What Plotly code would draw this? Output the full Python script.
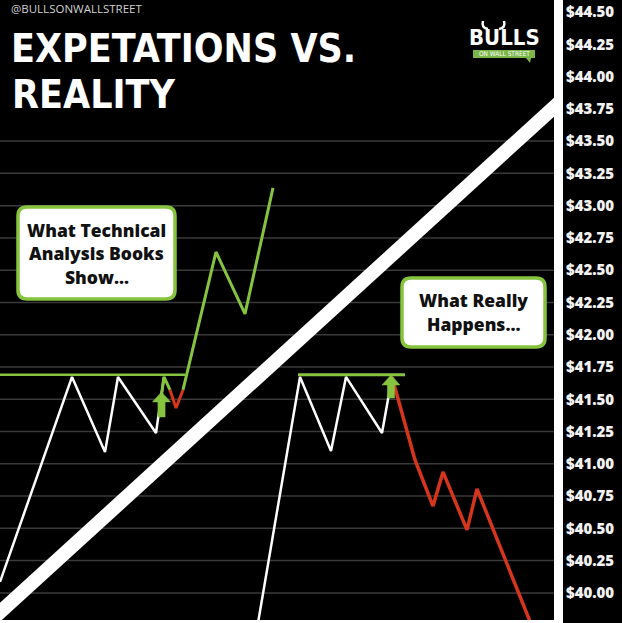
import plotly.graph_objects as go

# ---------------- data ----------------
tick_values = [40.00, 40.25, 40.50, 40.75, 41.00, 41.25, 41.50, 41.75, 42.00,
               42.25, 42.50, 42.75, 43.00, 43.25, 43.50, 43.75, 44.00, 44.25, 44.50]
tick_labels = ["$40.00", "$40.25", "$40.50", "$40.75", "$41.00", "$41.25", "$41.50",
               "$41.75", "$42.00", "$42.25", "$42.50", "$42.75", "$43.00", "$43.25",
               "$43.50", "$43.75", "$44.00", "$44.25", "$44.50"]
grid_values = [40.00, 40.25, 40.50, 40.75, 41.00, 41.25, 41.50, 41.75, 42.00,
               42.25, 42.50, 42.75, 43.00, 43.25, 43.50]

# left ("expectation") pattern
left_white_t = [0, 72, 105, 118, 156, 164]
left_white_p = [40.085, 41.673, 41.092, 41.673, 41.239, 41.673]
left_green1_t = [161, 164, 170]
left_green1_p = [41.51, 41.673, 41.572]
left_red_t = [170, 176, 183]
left_red_p = [41.572, 41.433, 41.572]
left_green2_t = [183, 216, 245, 273]
left_green2_p = [41.572, 42.641, 42.161, 43.137]
left_resist_t = [0, 185]
left_resist_p = [41.69, 41.69]

# right ("reality") pattern
right_white_t = [258, 300, 331, 346, 382, 392]
right_white_p = [39.767, 41.673, 41.100, 41.673, 41.239, 41.673]
right_red_t = [392, 415, 433, 443, 467, 477, 531]
right_red_p = [41.673, 41.030, 40.673, 40.937, 40.488, 40.805, 39.76]
right_resist_t = [298, 405]
right_resist_p = [41.69, 41.69]

# divider
diag_t = [-10, 565]
diag_p = [39.78, 43.84]

# breakout arrows
arrow_t = [161.5, 391]
arrow_tip = [41.557, 41.688]
arrow_bottom = [41.363, 41.510]

# ---------------- layout constants ----------------
W, H = 622, 623
ML, MR, MT, MB = 0, 68, 0, 3
PW, PH = W - ML - MR, H - MT - MB
X_RANGE = [0, PW]
Y_RANGE = [39.790, 44.593]
PX_Y = (Y_RANGE[1] - Y_RANGE[0]) / PH   # price units per pixel

GREEN = "#86c440"
RED = "#d5351d"
WHITE = "#ffffff"
GRID = "#3a3a3a"
CONDENSED = "DejaVu Sans Condensed, DejaVu Sans, sans-serif"


def px(x, y):
    """figure pixel -> paper coords"""
    return (x - ML) / PW, 1 - (y - MT) / PH


def P(x, y):
    a, b = px(x, y)
    return f"{a:.5f},{b:.5f}"


def rrect(x0, y0, x1, y1, r):
    return (f"M {P(x0 + r, y0)} L {P(x1 - r, y0)} Q {P(x1, y0)} {P(x1, y0 + r)} "
            f"L {P(x1, y1 - r)} Q {P(x1, y1)} {P(x1 - r, y1)} L {P(x0 + r, y1)} "
            f"Q {P(x0, y1)} {P(x0, y1 - r)} L {P(x0, y0 + r)} Q {P(x0, y0)} {P(x0 + r, y0)} Z")


fig = go.Figure()

# grid lines
for g in grid_values:
    fig.add_trace(go.Scatter(x=[X_RANGE[0], X_RANGE[1]], y=[g, g], mode="lines",
                             line=dict(color=GRID, width=1.5), hoverinfo="skip",
                             showlegend=False))

# divider diagonal
fig.add_trace(go.Scatter(x=diag_t, y=diag_p, mode="lines",
                         line=dict(color=WHITE, width=14), showlegend=False))


def line(t, p, color, width):
    fig.add_trace(go.Scatter(x=t, y=p, mode="lines",
                             line=dict(color=color, width=width),
                             showlegend=False))


line(left_resist_t, left_resist_p, GREEN, 2.5)
line(right_resist_t, right_resist_p, GREEN, 3)
line(left_white_t, left_white_p, WHITE, 2.5)
line(left_green1_t, left_green1_p, GREEN, 3)
line(left_red_t, left_red_p, RED, 3)
line(left_green2_t, left_green2_p, GREEN, 3)
line(right_white_t, right_white_p, WHITE, 2.5)
line(right_red_t, right_red_p, RED, 3.5)

# arrows (head 10px tall, head half width 9px, shaft half width 3.6px)
HEAD_H, HEAD_W, SHAFT_W = 10, 9, 3.6
for t, tip, bot in zip(arrow_t, arrow_tip, arrow_bottom):
    base = tip - HEAD_H * PX_Y
    xs = [t, t + HEAD_W, t + SHAFT_W, t + SHAFT_W, t - SHAFT_W, t - SHAFT_W, t - HEAD_W, t]
    ys = [tip, base, base, bot, bot, base, base, tip]
    fig.add_trace(go.Scatter(x=xs, y=ys, mode="lines", fill="toself",
                             fillcolor=GREEN, line=dict(color=GREEN, width=0.5),
                             showlegend=False))

shapes = []
annotations = []

# right-hand white frame bar
shapes.append(dict(type="rect", xref="paper", yref="paper",
                   x0=1.0, x1=1 + 9 / PW, y0=-MB / PH, y1=1.0,
                   fillcolor=WHITE, line=dict(width=0), layer="above"))

# callout boxes
shapes.append(dict(type="path", xref="paper", yref="paper",
                   path=rrect(18, 207, 175, 299, 9),
                   fillcolor=WHITE, line=dict(color=GREEN, width=3.5), layer="above"))
shapes.append(dict(type="path", xref="paper", yref="paper",
                   path=rrect(402, 278, 545, 347, 9),
                   fillcolor=WHITE, line=dict(color=GREEN, width=3.5), layer="above"))

BOX_FONT = dict(family="Open Sans", size=17.5, color="#111111", weight=800)
for txt, cx, cy in [("What Technical", 96.5, 230), ("Analysis Books", 96.5, 253),
                    ("Show...", 96.5, 277), ("What Really", 474, 300),
                    ("Happens...", 474, 324)]:
    a, b = px(cx, cy)
    annotations.append(dict(x=a, y=b, xref="paper", yref="paper", text=txt,
                            showarrow=False, xanchor="center", yanchor="middle",
                            font=BOX_FONT))

# title
TITLE_FONT = dict(family=CONDENSED, size=39, color=WHITE, weight="bold")
for txt, x, y in [("EXPETATIONS VS.", 9, 49), ("REALITY", 10, 95)]:
    a, b = px(x, y)
    annotations.append(dict(x=a, y=b, xref="paper", yref="paper", text=txt,
                            showarrow=False, xanchor="left", yanchor="middle",
                            font=TITLE_FONT))

a, b = px(9, 8)
annotations.append(dict(x=a, y=b, xref="paper", yref="paper", text="@BULLSONWALLSTREET",
                        showarrow=False, xanchor="left", yanchor="middle",
                        font=dict(family="Open Sans", size=11.5, color="#d0d0d0")))

# logo: text, horns and speech-bubble banner
shapes.append(dict(type="path", xref="paper", yref="paper",
                   path=f"M {P(473, 50)} L {P(535, 50)} L {P(535, 58)} L {P(531, 58)} "
                        f"L {P(530, 63)} L {P(526, 58)} L {P(473, 58)} Z",
                   fillcolor="#7ab648", line=dict(width=0), layer="above"))
shapes.append(dict(type="path", xref="paper", yref="paper",
                   path=f"M {P(488, 29)} Q {P(481, 28)} {P(483, 21)}",
                   line=dict(color=WHITE, width=2.5), layer="above"))
shapes.append(dict(type="path", xref="paper", yref="paper",
                   path=f"M {P(499, 29)} Q {P(506, 28)} {P(504, 21)}",
                   line=dict(color=WHITE, width=2.5), layer="above"))
a, b = px(504, 37)
annotations.append(dict(x=a, y=b, xref="paper", yref="paper", text="BULLS",
                        showarrow=False, xanchor="center", yanchor="middle",
                        font=dict(family=CONDENSED, size=22, color=WHITE, weight="bold")))
a, b = px(504, 54.5)
annotations.append(dict(x=a, y=b, xref="paper", yref="paper", text="ON WALL STREET",
                        showarrow=False, xanchor="center", yanchor="middle",
                        font=dict(family=CONDENSED, size=6.5, color=WHITE)))

fig.update_layout(
    width=W, height=H,
    margin=dict(l=ML, r=MR, t=MT, b=MB, pad=0),
    paper_bgcolor="#000000", plot_bgcolor="#000000",
    shapes=shapes, annotations=annotations,
    showlegend=False,
    xaxis=dict(range=X_RANGE, showgrid=False, zeroline=False, showticklabels=False,
               ticks="", showline=True, linecolor=WHITE, linewidth=3, fixedrange=True),
    yaxis=dict(range=Y_RANGE, side="right", showgrid=False, zeroline=False,
               tickvals=tick_values, ticktext=tick_labels, ticks="",
               showline=False,
               tickfont=dict(family="Open Sans", size=15, color="#f2f2f2", weight=800),
               ticklabelstandoff=11, fixedrange=True),
)

fig.write_html("out.html", config={"displayModeBar": False},
               post_script="document.body.style.margin='0px';")
